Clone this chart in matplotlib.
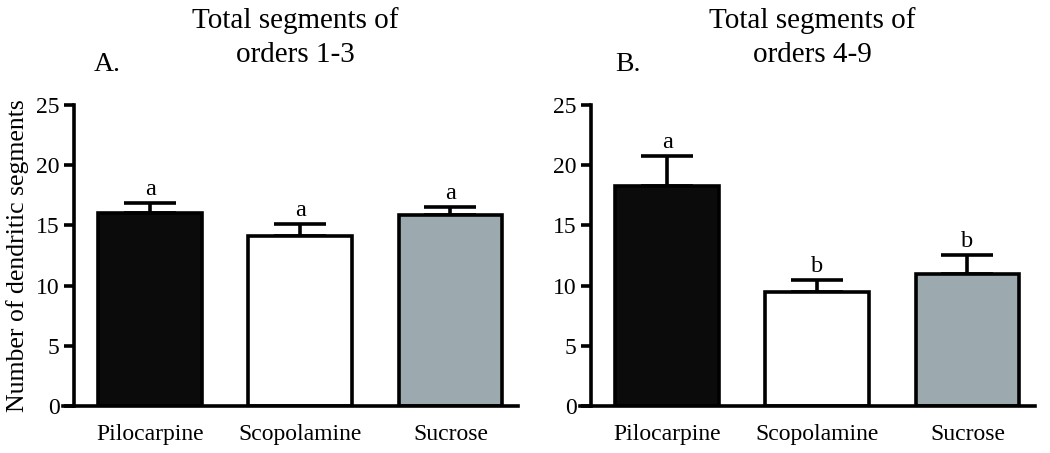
import matplotlib.pyplot as plt
import numpy as np

plt.rcParams['font.family'] = ['Liberation Serif', 'DejaVu Serif']

groups = ['Pilocarpine', 'Scopolamine', 'Sucrose']
colors = ['#0b0b0b', '#ffffff', '#9caab0']

# panel A: orders 1-3
means_a = [16.0, 14.1, 15.9]
sem_a = [0.9, 1.0, 0.65]
letters_a = ['a', 'a', 'a']

# panel B: orders 4-9
means_b = [18.25, 9.45, 11.0]
sem_b = [2.5, 1.0, 1.55]
letters_b = ['a', 'b', 'b']

fig = plt.figure(figsize=(10.5, 4.53), dpi=100)
W, H = 1050, 453
LW = 2.6


def panel(x0, x1, means, sems, letters, title, tag, tag_x, ylabel=None):
    ax = fig.add_axes([x0 / W, 1 - 406 / H, (x1 - x0) / W, (406 - 105) / H])
    x = np.arange(len(groups))
    ax.bar(x, means, width=0.69, color=colors, edgecolor='black', linewidth=LW, zorder=2)
    ax.errorbar(x, means, yerr=[np.zeros(len(sems)), sems], fmt='none', ecolor='black',
                elinewidth=LW, capsize=19, capthick=LW, zorder=1)
    for xi, m, s, lab in zip(x, means, sems, letters):
        ax.text(xi, m + s + 0.25, lab, ha='center', va='bottom', fontsize=17.5)
    ax.set_xlim(-0.58, 2.45)
    ax.set_ylim(0, 25)
    ax.set_yticks([0, 5, 10, 15, 20, 25])
    ax.set_xticks(x)
    ax.set_xticklabels(groups, fontsize=17)
    ax.tick_params(axis='x', length=0, pad=13)
    ax.tick_params(axis='y', length=7, width=LW, labelsize=17, pad=3)
    for sp in ['top', 'right']:
        ax.spines[sp].set_visible(False)
    ax.spines['left'].set_position(('data', -0.51))
    ax.spines['left'].set_linewidth(LW)
    ax.spines['bottom'].set_linewidth(LW)
    if ylabel:
        ax.set_ylabel(ylabel, fontsize=18.5, labelpad=5)
    cx = (x0 + 10 + x1) / 2
    fig.text(cx / W, 1 - 7 / H, title, ha='center', va='top', fontsize=21, linespacing=1.4)
    fig.text(tag_x / W, 1 - 71 / H, tag, ha='left', va='baseline', fontsize=20)
    return ax


panel(63, 518, means_a, sem_a, letters_a, 'Total segments of\norders 1-3', 'A.', 94,
      ylabel='Number of dendritic segments')
panel(580, 1035, means_b, sem_b, letters_b, 'Total segments of\norders 4-9', 'B.', 615)

fig.savefig('out.png', dpi=100)
